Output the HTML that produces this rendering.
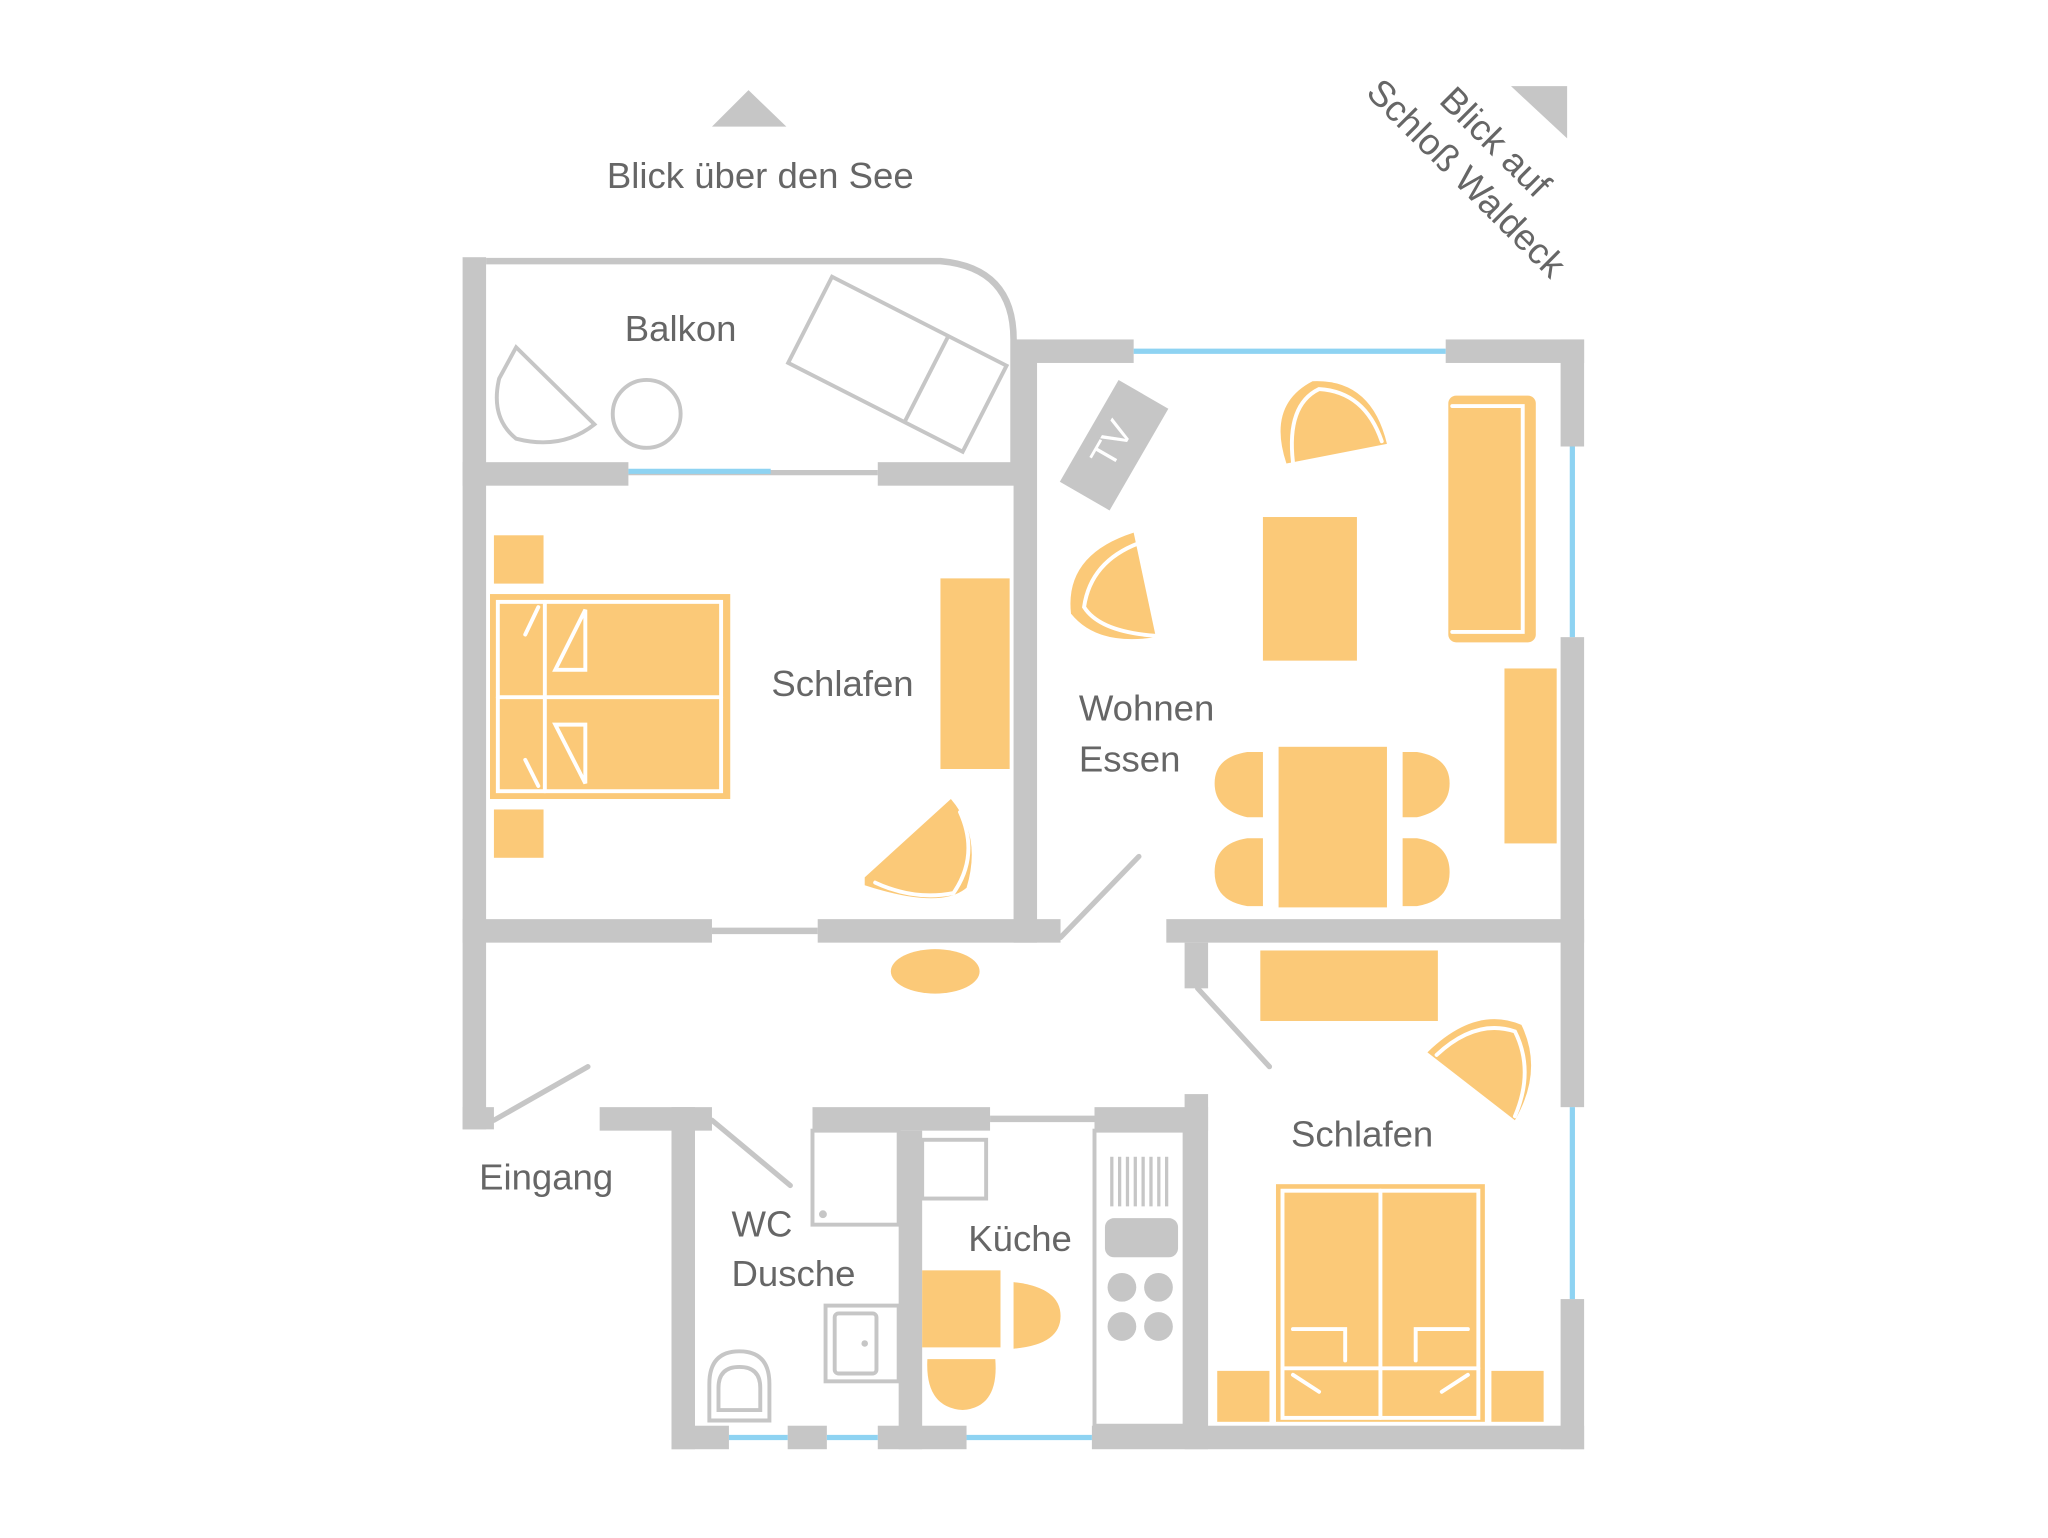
<!DOCTYPE html>
<html><head><meta charset="utf-8"><style>html,body{margin:0;padding:0;background:#fff}svg{display:block}</style></head><body>
<svg width="2048" height="1538" viewBox="0 0 1568 1178" xmlns="http://www.w3.org/2000/svg" font-family="Liberation Sans, sans-serif">
<rect width="1568" height="1178" fill="#fff"/>
<g fill="#c6c6c6">
<polygon points="545,97 573,69 602,97"/>
<polygon points="1157,66 1200,66 1200,106"/>
<rect x="354" y="197" width="18" height="668"/>
<rect x="354" y="848" width="24" height="17"/>
<rect x="354" y="354" width="127" height="18"/>
<rect x="672" y="354" width="106" height="18"/>
<rect x="776" y="260" width="18" height="462"/>
<rect x="778" y="260" width="90" height="18"/>
<rect x="1107" y="260" width="106" height="18"/>
<rect x="1195" y="260" width="18" height="82"/>
<rect x="1195" y="488" width="18" height="360"/>
<rect x="1195" y="995" width="18" height="115"/>
<rect x="354" y="704" width="191" height="18"/>
<rect x="626" y="704" width="186" height="18"/>
<rect x="893" y="704" width="320" height="18"/>
<rect x="907" y="722" width="18" height="35"/>
<rect x="459" y="848" width="86" height="18"/>
<rect x="514" y="848" width="18" height="262"/>
<rect x="622" y="848" width="136" height="18"/>
<rect x="838" y="848" width="87" height="18"/>
<rect x="907" y="838" width="18" height="272"/>
<rect x="688" y="866" width="18" height="244"/>
<rect x="514" y="1092" width="44" height="18"/>
<rect x="603" y="1092" width="30" height="18"/>
<rect x="672" y="1092" width="68" height="18"/>
<rect x="836" y="1092" width="377" height="18"/>
<g transform="translate(853,341) rotate(30)"><rect x="-22" y="-45" width="44" height="90"/></g>
<rect x="846" y="933" width="56" height="30" rx="7"/>
<circle cx="859" cy="986" r="11"/><circle cx="887" cy="986" r="11"/>
<circle cx="859" cy="1016" r="11"/><circle cx="887" cy="1016" r="11"/>
<g><rect x="850" y="886" width="2.5" height="38"/><rect x="856" y="886" width="2.5" height="38"/><rect x="862" y="886" width="2.5" height="38"/><rect x="868" y="886" width="2.5" height="38"/><rect x="874" y="886" width="2.5" height="38"/><rect x="880" y="886" width="2.5" height="38"/><rect x="886" y="886" width="2.5" height="38"/><rect x="892" y="886" width="2.5" height="38"/></g>
</g>
<text x="853" y="341" transform="rotate(-60 853 341)" font-size="28" fill="#fff" text-anchor="middle" dominant-baseline="middle">TV</text>
<g stroke="#c6c6c6" fill="none">
<path d="M372,200 H720 Q776,205 776,260 V355" stroke-width="5"/>
<line x1="481" y1="362" x2="672" y2="362" stroke-width="4"/>
<line x1="545" y1="713" x2="626" y2="713" stroke-width="5"/>
<line x1="758" y1="857" x2="838" y2="857" stroke-width="5"/>
<g stroke-width="4" stroke-linecap="round">
<line x1="812" y1="718" x2="872" y2="656"/>
<line x1="917" y1="757" x2="972" y2="817"/>
<line x1="378" y1="858" x2="450" y2="817"/>
<line x1="545" y1="858" x2="605" y2="908"/>
</g>
<g stroke-width="3">
<path d="M395,266 L455,325 Q430,345 395,336 Q375,320 382,290 Z"/>
<circle cx="495" cy="317" r="26"/>
<g transform="translate(687,279) rotate(27)"><rect x="-75" y="-37" width="150" height="74"/><line x1="25" y1="-37" x2="25" y2="37"/></g>
<rect x="622" y="866" width="66" height="72"/>
<rect x="706" y="873" width="49" height="45"/>
<rect x="632" y="1000" width="56" height="58"/><rect x="639" y="1006" width="32" height="46" rx="3"/>
<path d="M543,1088 V1060 Q543,1035 566,1035 Q589,1035 589,1060 V1088 Z"/>
<path d="M550,1080 V1063 Q550,1047 566,1047 Q582,1047 582,1063 V1080 Z"/>
<rect x="838" y="866" width="69" height="226"/>
</g>
</g>
<circle cx="630" cy="930" r="3" fill="#c6c6c6"/><circle cx="662" cy="1029" r="2.5" fill="#c6c6c6"/>
<g stroke="#8ed3f2" stroke-width="4">
<line x1="481" y1="361" x2="590" y2="361"/>
<line x1="868" y1="269" x2="1107" y2="269"/>
<line x1="1204" y1="342" x2="1204" y2="488"/>
<line x1="1204" y1="848" x2="1204" y2="995"/>
<line x1="558" y1="1101" x2="603" y2="1101"/>
<line x1="633" y1="1101" x2="672" y2="1101"/>
<line x1="740" y1="1101" x2="836" y2="1101"/>
</g>
<g fill="#fbc978">
<rect x="378" y="410" width="38" height="37"/><rect x="378" y="620" width="38" height="37"/>
<rect x="375" y="455" width="184" height="157"/>
<rect x="720" y="443" width="53" height="146"/>
<path d="M662,672 L728,612 Q752,640 740,680 Q720,697 662,678 Z"/>
<path d="M868,408 L885,488 Q840,495 820,470 Q815,425 868,408 Z"/>
<path d="M985,355 Q970,310 1005,292 Q1050,290 1062,340 Z"/>
<rect x="967" y="396" width="72" height="110"/>
<rect x="1109" y="303" width="67" height="189" rx="6"/>
<rect x="1152" y="512" width="40" height="134"/>
<rect x="979" y="572" width="83" height="123"/>
<path d="M967,576 H955 Q930,580 930,600 Q930,620 955,626 H967 Z"/>
<path d="M967,642 H955 Q930,646 930,668 Q930,690 955,694 H967 Z"/>
<path d="M1074,576 H1085 Q1110,580 1110,600 Q1110,620 1085,626 H1074 Z"/>
<path d="M1074,642 H1085 Q1110,646 1110,668 Q1110,690 1085,694 H1074 Z"/>
<ellipse cx="716" cy="744" rx="34" ry="17"/>
<rect x="965" y="728" width="136" height="54"/>
<path d="M1093,806 Q1130,770 1165,785 Q1182,820 1160,858 Z"/>
<rect x="977" y="907" width="160" height="182"/>
<rect x="932" y="1050" width="40" height="39"/><rect x="1142" y="1050" width="40" height="39"/>
<rect x="706" y="973" width="60" height="59"/>
<path d="M776,982 Q812,986 812,1008 Q812,1030 776,1033 Z"/>
<path d="M710,1041 H762 Q765,1078 737,1080 Q708,1078 710,1041 Z"/>
</g>
<g stroke="#fff" stroke-width="3" fill="none" stroke-linecap="round">
<rect x="381" y="461" width="171" height="145"/>
<line x1="381" y1="534" x2="552" y2="534"/>
<line x1="417" y1="461" x2="417" y2="606"/>
<path d="M448,467 V513 H425 Z"/><path d="M448,600 V555 H425 Z"/>
<path d="M412,465 L402,486"/><path d="M412,602 L402,582"/>
<path d="M735,622 Q750,655 730,684 Q700,690 670,676"/>
<path d="M872,416 Q835,430 830,465 Q842,484 885,487"/>
<path d="M990,354 Q985,310 1010,298 Q1045,300 1058,338"/>
<path d="M1112,311 H1166 V484 H1112"/>
<line x1="973" y1="572" x2="973" y2="695"/><line x1="1068" y1="572" x2="1068" y2="695"/>
<path d="M1100,808 Q1130,780 1160,790 Q1175,820 1160,855"/>
<rect x="982" y="912" width="150" height="174"/>
<line x1="1057" y1="912" x2="1057" y2="1086"/>
<line x1="982" y1="1048" x2="1132" y2="1048"/>
<path d="M990,1018 H1030 V1042"/><path d="M1124,1018 H1084 V1042"/>
<path d="M990,1053 L1010,1066"/><path d="M1124,1053 L1104,1066"/>
<line x1="770" y1="975" x2="770" y2="1035"/>
</g>
<g fill="#666" font-size="28">
<text x="582" y="144" text-anchor="middle">Blick über den See</text>
<text x="521" y="261" text-anchor="middle">Balkon</text>
<text x="645" y="533" text-anchor="middle">Schlafen</text>
<text x="826" y="552">Wohnen</text>
<text x="826" y="591">Essen</text>
<text x="1043" y="878" text-anchor="middle">Schlafen</text>
<text x="418" y="911" text-anchor="middle">Eingang</text>
<text x="560" y="947">WC</text>
<text x="560" y="985">Dusche</text>
<text x="781" y="958" text-anchor="middle">Küche</text>
<text transform="translate(1101,78) rotate(45)">Blick auf</text>
<text transform="translate(1045,72) rotate(45)">Schloß Waldeck</text>
</g>
</svg>
</body></html>
